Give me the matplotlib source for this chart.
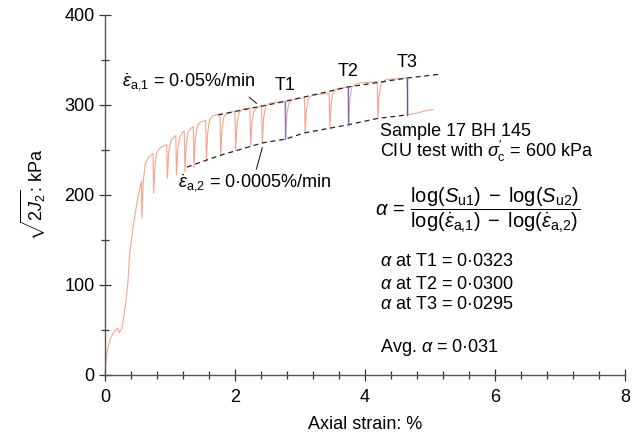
import matplotlib
matplotlib.use("Agg")
import matplotlib.pyplot as plt
from matplotlib.ticker import MultipleLocator

plt.rcParams['font.family'] = 'Liberation Sans'
plt.rcParams['font.size'] = 13
plt.rcParams['mathtext.fontset'] = 'custom'
plt.rcParams['mathtext.rm'] = 'Liberation Sans'
plt.rcParams['mathtext.it'] = 'Liberation Sans:italic'
plt.rcParams['mathtext.sf'] = 'Liberation Sans'

# stress-strain record (axial strain %, sqrt(2J2) kPa)
strain = [0.00, 0.03, 0.08, 0.13, 0.19, 0.22, 0.26, 0.31, 0.35, 0.38, 0.44, 0.50, 0.54, 0.56,
          0.57, 0.59, 0.62, 0.67, 0.74,
          0.75, 0.77, 0.80, 0.86, 0.95,
          0.96, 0.98, 1.01, 1.05, 1.09,
          1.10, 1.12, 1.15, 1.18, 1.22,
          1.23, 1.25, 1.28, 1.32, 1.36,
          1.37, 1.39, 1.42, 1.47, 1.55,
          1.56, 1.58, 1.61, 1.66, 1.77,
          1.78, 1.80, 1.83, 1.88, 2.00,
          2.01, 2.03, 2.06, 2.11, 2.23,
          2.24, 2.26, 2.29, 2.34, 2.41,
          2.42, 2.44, 2.47, 2.53, 2.77,
          2.78, 2.80, 2.83, 2.88, 3.07,
          3.08, 3.10, 3.13, 3.19, 3.45,
          3.46, 3.48, 3.51, 3.57, 3.74,
          3.75, 3.77, 3.80, 3.87, 4.19,
          4.20, 4.22, 4.25, 4.32, 4.65,
          4.66, 4.80, 4.95, 5.05]
stress = [5, 25, 40, 47, 52, 47, 52, 75, 100, 135, 168, 195, 209, 215,
          175, 217, 234, 242, 246,
          202, 234, 248, 253, 256,
          219, 247, 259, 264, 266,
          222, 251, 264, 269, 271,
          226, 256, 270, 274, 276,
          230, 262, 277, 281, 283,
          238, 269, 284, 288, 290,
          244, 273, 287, 291, 293,
          249, 278, 291, 295, 297,
          254, 281, 293, 297, 299,
          257, 285, 298, 302, 304,
          262, 290, 302, 306, 308,
          269, 295, 307, 311, 313,
          274, 302, 314, 318, 320,
          278, 307, 320, 324, 326,
          285, 312, 324, 328, 330,
          289, 291, 294, 295]

# envelopes (dashed)
upper_strain = [1.74, 2.77, 3.74, 4.65, 5.13]
upper_stress = [289, 304, 320, 330, 334]
lower_strain = [1.26, 1.77, 2.43, 2.77, 3.07, 3.74, 4.19, 4.65]
lower_stress = [231, 244, 258, 262, 269, 278, 285, 289]

# T1, T2, T3 markers
t_labels = ['T1', 'T2', 'T3']
t_strain = [2.77, 3.74, 4.65]
t_low = [262, 278, 289]
t_high = [304, 320, 330]
t_colors = ['#7b80d0', '#6c71c4', '#5a5e8c']

fig = plt.figure(figsize=(6.39, 4.37), dpi=100)
ax = fig.add_axes([0.1643, 0.1419, 0.8137, 0.8238])

ax.plot(strain, stress, color='#f6a58c', lw=0.8)
ax.plot(upper_strain, upper_stress, color='#222222', lw=0.9, ls=(0, (4, 3)))
ax.plot(lower_strain, lower_stress, color='#222222', lw=0.9, ls=(0, (4, 3)))
for lab, x, lo, hi, c in zip(t_labels, t_strain, t_low, t_high, t_colors):
    ax.plot([x, x], [lo, hi], color=c, lw=1.0)
    ax.text(x, hi + 8, lab, ha='center', va='bottom', fontsize=13)

# rate annotations
ax.text(0.26, 325, r'$\dot{\varepsilon}_{\mathrm{a{,}1}}$ = 0·05%/min', ha='left', va='center')
ax.plot([2.22, 2.33], [308.6, 301.9], color='#222222', lw=0.8)
ax.text(1.12, 213, r'$\dot{\varepsilon}_{\mathrm{a{,}2}}$ = 0·0005%/min', ha='left', va='center')
ax.plot([2.42, 2.33], [252.6, 228.9], color='#222222', lw=0.8)

ax.text(4.23, 270, 'Sample 17 BH 145', ha='left', va='center')
ax.text(4.23, 248, r"CIU test with $\sigma^{\prime}_{\mathrm{c}}$ = 600 kPa", ha='left', va='center')
ax.text(4.15, 183, r'$\alpha\,=\,\dfrac{\mathrm{log}(S_{\mathrm{u1}})\;-\;\mathrm{log}(S_{\mathrm{u2}})}'
        r'{\mathrm{log}(\dot{\varepsilon}_{\mathrm{a{,}1}})\;-\;\mathrm{log}(\dot{\varepsilon}_{\mathrm{a{,}2}})}$',
        ha='left', va='center', fontsize=14.5)
ax.text(4.23, 125.6, r'$\alpha$ at T1 = 0·0323', ha='left', va='center')
ax.text(4.23, 101, r'$\alpha$ at T2 = 0·0300', ha='left', va='center')
ax.text(4.23, 77.8, r'$\alpha$ at T3 = 0·0295', ha='left', va='center')
ax.text(4.23, 31, r'Avg. $\alpha$ = 0·031', ha='left', va='center')

ax.set_xlim(0, 8)
ax.set_ylim(0, 400)
ax.xaxis.set_major_locator(MultipleLocator(2))
ax.xaxis.set_minor_locator(MultipleLocator(0.4))
ax.yaxis.set_major_locator(MultipleLocator(100))
ax.yaxis.set_minor_locator(MultipleLocator(50))
for s in ['top', 'right']:
    ax.spines[s].set_visible(False)
for s in ['left', 'bottom']:
    ax.spines[s].set_color('#555555')
    ax.spines[s].set_linewidth(1.0)
ax.tick_params(which='major', direction='inout', length=8, width=0.9, color='#333333', labelsize=13)
ax.tick_params(axis='x', which='major', pad=6)
ax.tick_params(which='minor', direction='inout', length=6, width=0.9, color='#333333')
ax.set_xlabel('Axial strain: %', fontsize=13, labelpad=7)
ax.set_ylabel(r'$\sqrt{2J_2}$: kPa', fontsize=13, labelpad=12)

fig.savefig('out.png', dpi=100)
